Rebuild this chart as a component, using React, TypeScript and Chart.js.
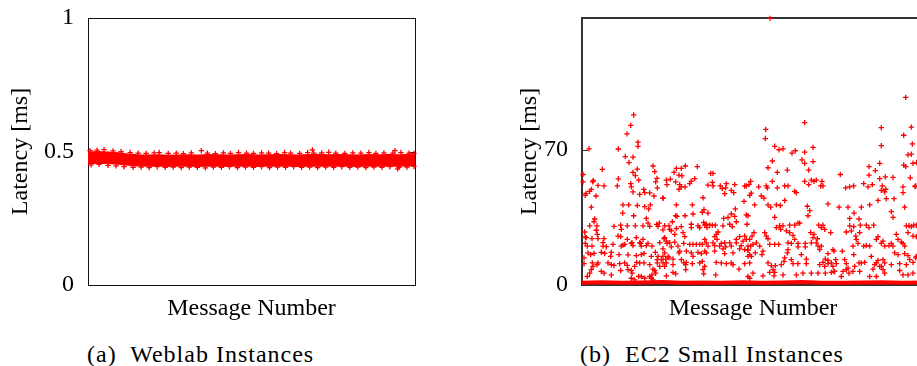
import { useEffect, useRef } from "react";
import { Chart, registerables } from "chart.js";
Chart.register(...registerables);

const FONT = "\"Liberation Serif\", \"DejaVu Serif\", serif";
const RED = "rgb(255,0,0)";

// ---------- (a) Weblab ----------
const weblabYTicks = [0, 0.5, 1];
const weblabXMax = 3260;
const weblabBandX = [0,100,200,300,400,500,600,700,800,900,1000,1100,1200,1300,1400,1500,1600,1700,1800,1900,2000,2100,2200,2300,2400,2500,2600,2700,2800,2900,3000,3100,3200,3260];
const weblabBandUpper = [0.497,0.499,0.497,0.494,0.490,0.487,0.486,0.487,0.485,0.486,0.487,0.486,0.488,0.487,0.486,0.487,0.488,0.486,0.487,0.488,0.487,0.486,0.488,0.489,0.487,0.488,0.487,0.486,0.488,0.487,0.488,0.487,0.488,0.487];
const weblabBandLower = [0.455,0.457,0.456,0.453,0.449,0.447,0.446,0.447,0.445,0.447,0.446,0.445,0.447,0.446,0.445,0.447,0.446,0.445,0.447,0.446,0.447,0.445,0.446,0.447,0.446,0.447,0.446,0.445,0.447,0.446,0.447,0.446,0.447,0.448];
const weblabTopEdge = [[20,0.503],[90,0.505],[160,0.507],[250,0.502],[330,0.499],[420,0.496],[500,0.494],[580,0.493],[660,0.495],[710,0.496],[800,0.493],[880,0.494],[950,0.492],[1030,0.495],[1130,0.503],[1190,0.494],[1270,0.492],[1350,0.495],[1420,0.493],[1500,0.496],[1580,0.494],[1650,0.493],[1730,0.495],[1800,0.494],[1880,0.492],[1960,0.496],[2020,0.494],[2110,0.493],[2190,0.496],[2237,0.506],[2250,0.494],[2330,0.495],[2400,0.497],[2470,0.494],[2560,0.493],[2640,0.495],[2720,0.494],[2800,0.496],[2870,0.493],[2950,0.495],[3040,0.494],[3060,0.503],[3120,0.496],[3200,0.494],[3250,0.493]];
const weblabBottomEdge = [[30,0.450],[110,0.452],[200,0.448],[280,0.446],[360,0.443],[450,0.441],[530,0.442],[610,0.440],[690,0.443],[770,0.441],[850,0.442],[930,0.440],[1010,0.442],[1090,0.441],[1170,0.439],[1250,0.442],[1330,0.441],[1410,0.443],[1490,0.440],[1570,0.442],[1650,0.441],[1730,0.443],[1810,0.440],[1890,0.442],[1970,0.441],[2050,0.443],[2130,0.441],[2210,0.442],[2290,0.440],[2370,0.442],[2450,0.441],[2530,0.443],[2610,0.441],[2690,0.442],[2770,0.440],[2850,0.442],[2930,0.441],[3010,0.443],[3087,0.435],[3100,0.441],[3180,0.442],[3250,0.444]];

// ---------- (b) EC2 Small ----------
const ec2YTicks = [0, 70];
const ec2YMax = 138;
const ec2XMax = 3420;
const ec2BaseX = [0,200,400,600,800,1000,1200,1400,1600,1800,2000,2200,2400,2600,2800,3000,3200,3420];
const ec2BaseY = [1.2,1.4,1.1,1.3,1.5,1.2,1.3,1.1,1.4,1.2,1.3,1.5,1.2,1.1,1.3,1.4,1.2,1.3];
const ec2SegA = [[517,87.9],[487,82.5],[450,78.1],[560,73.8],[560,71.7],[70,70.4],[363,70.3],[433,66.4],[510,66.1],[470,63.3],[203,59.8],[510,58.2],[553,59.9],[533,56.5],[567,54.2],[10,57.1],[10,53.3],[113,54.0],[107,53.3],[363,54.9],[160,51.5],[220,51.2],[353,51.2],[487,52.4],[493,50.7],[510,48.1],[93,49.4],[40,47.3],[33,46.3],[77,48.4],[140,46.0],[617,49.4],[577,46.8],[627,47.7],[677,47.6],[720,46.0],[710,61.5],[727,58.6],[750,55.1],[737,53.3],[753,50.2],[810,44.9],[93,40.2],[410,41.4],[467,41.4],[553,41.1],[407,37.2],[517,35.8],[627,40.5],[683,41.4],[667,39.3],[127,34.1],[120,32.7],[77,30.6],[150,30.6],[27,27.4],[33,24.8],[143,28.3],[153,26.2],[320,30.3],[387,30.9],[393,28.8],[453,30.6],[533,30.6],[643,34.4],[660,32.0],[610,30.6],[677,30.3],[760,30.3],[747,31.3],[773,32.0],[810,28.5],[820,24.0],[43,24.5],[100,24.0],[160,24.0],[220,24.0],[210,21.9],[360,25.3],[387,25.0],[453,23.6],[543,24.5],[500,21.9],[577,21.9],[610,23.6],[33,21.5],[53,20.1],[100,20.1],[60,16.6],[20,14.0],[87,15.7],[120,16.3],[210,20.1],[243,19.8],[310,21.0],[410,20.6],[427,21.0],[393,20.1],[493,21.5],[510,20.4],[587,21.5],[593,20.1],[643,20.4],[660,21.5],[700,20.1],[777,21.9],[193,16.9],[227,16.3],[293,16.9],[287,14.8],[370,15.7],[460,15.6],[543,15.2],[593,15.7],[620,16.3],[733,16.9],[760,14.8],[793,13.1],[693,14.8],[753,13.1],[20,11.0],[103,11.4],[160,11.4],[150,10.5],[110,9.6],[260,11.4],[293,10.5],[320,10.1],[377,11.0],[427,11.4],[453,10.1],[387,7.5],[493,7.5],[460,7.9],[500,6.1],[527,9.6],[547,11.7],[577,11.4],[620,11.4],[677,10.5],[710,8.2],[727,7.5],[737,6.1],[753,11.4],[777,9.6],[93,7.9],[77,6.1],[53,4.4],[193,7.0],[220,6.1],[293,5.2],[593,4.4],[627,3.5],[677,4.4],[693,3.5],[700,5.2],[710,2.6],[493,3.5],[527,2.6],[567,4.4]];
const ec2SegB = [[1033,61.5],[993,60.3],[943,60.3],[920,58.2],[970,56.8],[1000,56.4],[1153,61.2],[1287,57.7],[1310,57.7],[883,54.7],[843,54.2],[850,51.9],[937,53.3],[977,51.9],[993,50.7],[970,49.5],[1030,50.7],[1127,55.0],[1093,53.7],[1077,52.4],[1260,51.6],[1310,51.2],[1303,53.0],[1383,51.2],[1403,49.8],[1443,52.4],[1437,50.2],[1427,47.2],[1527,51.9],[1517,47.7],[1493,48.9],[1627,51.2],[1643,51.2],[1670,51.9],[810,44.9],[1210,45.1],[943,41.4],[1103,41.4],[1220,39.0],[1203,37.6],[1260,37.2],[1533,39.3],[1493,36.7],[1527,35.5],[1460,34.9],[1417,34.4],[1643,36.2],[1620,43.2],[937,35.8],[950,35.5],[1030,35.8],[1110,36.7],[903,32.7],[870,30.6],[827,30.6],[877,28.8],[893,28.0],[943,29.2],[993,30.2],[1093,31.4],[1093,29.7],[1160,30.6],[1177,29.7],[1217,32.3],[1227,30.9],[1243,31.4],[1277,30.9],[1303,30.9],[1333,30.9],[1250,29.7],[1410,30.6],[1477,31.4],[1503,30.2],[1543,32.7],[1650,31.4],[1010,27.1],[1027,25.0],[927,26.2],[827,24.5],[843,22.7],[850,21.5],[877,21.8],[893,19.7],[927,22.2],[960,20.1],[977,17.5],[1017,21.5],[1077,21.0],[1110,21.0],[1143,21.0],[1177,21.0],[1203,21.0],[1227,23.6],[1243,21.8],[1260,20.1],[1327,25.0],[1343,26.2],[1360,27.4],[1350,23.6],[1310,21.8],[1327,20.4],[1377,20.1],[1393,21.5],[1427,21.8],[1437,19.7],[1477,21.8],[1493,20.1],[1543,21.8],[1543,23.6],[1593,20.4],[1610,22.7],[1627,25.3],[1643,23.6],[1660,20.1],[1577,25.0],[810,18.7],[827,16.6],[810,14.8],[860,14.8],[837,13.4],[870,14.0],[910,13.4],[970,16.6],[1043,17.5],[1093,16.6],[1110,14.8],[1160,16.9],[1227,17.5],[1193,16.2],[1243,16.6],[1327,17.5],[1410,18.7],[1427,16.2],[1510,16.6],[1577,18.7],[1627,18.3],[1660,18.0],[810,11.4],[843,11.4],[827,9.6],[910,10.5],[993,13.1],[1017,11.4],[1037,10.5],[1043,11.7],[1103,11.0],[1177,11.4],[1203,12.2],[1227,9.6],[1210,7.9],[1343,11.7],[1393,11.4],[1443,11.0],[1493,11.4],[1510,10.5],[1627,11.0],[1677,11.4],[910,6.5],[937,5.8],[1037,7.9],[1217,5.8],[1337,5.2],[1570,8.2],[1660,4.4],[843,4.7]];
const ec2SegC = [[2227,83.9],[1837,80.4],[1833,75.7],[1927,71.7],[1970,69.9],[2010,70.4],[2100,68.2],[2133,69.4],[2227,68.7],[2310,71.1],[2227,62.9],[2200,64.7],[2310,63.8],[1903,64.1],[1860,60.6],[1953,58.2],[2053,59.4],[2267,59.4],[1687,53.6],[1767,50.7],[1843,51.2],[1853,50.2],[1903,53.6],[1953,50.2],[2027,51.2],[2060,51.2],[2127,48.4],[2143,47.7],[2227,53.6],[2267,51.9],[2293,54.2],[2320,53.6],[2343,54.2],[2400,53.6],[2410,51.2],[2387,51.2],[1693,47.5],[1677,46.3],[1793,46.0],[1820,44.9],[2027,43.7],[1727,41.4],[1860,41.4],[1887,40.2],[1943,41.4],[1983,41.1],[2253,40.7],[2277,38.4],[2260,35.8],[2460,41.9],[1927,35.0],[1660,35.8],[1720,27.1],[1700,25.3],[1677,23.6],[1710,21.0],[1743,21.8],[1777,20.1],[1687,20.1],[1660,14.8],[1693,14.8],[1733,16.6],[1800,15.7],[1827,27.1],[1843,25.3],[1860,23.9],[1877,21.0],[1927,21.0],[1967,21.0],[1943,29.7],[1977,30.6],[2010,30.6],[1987,28.8],[2077,30.9],[2127,30.9],[2160,32.0],[2177,32.0],[2043,28.0],[2077,27.1],[2110,25.7],[2127,23.6],[2060,21.8],[2093,21.5],[2060,18.3],[2053,16.6],[2160,21.5],[2160,19.7],[2233,21.5],[2233,19.7],[2193,15.7],[2243,13.4],[2293,21.8],[2310,24.5],[2353,23.9],[2343,21.8],[2360,20.1],[2393,20.1],[2377,18.3],[2367,30.9],[2393,29.7],[2427,28.8],[2410,30.9],[2487,27.1],[2287,27.1],[2320,26.2],[1660,18.0],[1677,15.7],[1810,17.5],[1860,11.4],[1893,10.0],[1910,7.9],[1877,6.5],[1927,6.5],[1933,10.0],[1993,10.5],[2027,14.0],[2020,12.2],[2093,13.1],[2110,11.0],[2160,11.0],[2243,11.0],[2293,6.1],[2377,10.5],[2410,11.7],[2433,13.4],[2460,12.7],[2460,11.0],[2493,11.4],[2427,9.6],[2460,16.2],[2520,17.5],[2433,6.1],[2493,6.5],[2520,7.0],[2360,6.1],[1710,6.1],[1677,3.5],[1810,4.7],[1920,4.7],[2010,5.2],[2143,5.2],[2210,6.1]];
const ec2SegD = [[3237,97.0],[2993,81.3],[3217,77.4],[3293,81.6],[3303,72.9],[2993,72.0],[3260,67.3],[3293,67.6],[3310,62.9],[3217,62.0],[3237,61.2],[2977,62.9],[2870,61.2],[2933,59.1],[2583,57.1],[2870,56.8],[2977,55.0],[3033,55.9],[3110,55.6],[3283,55.4],[3337,51.2],[3210,50.7],[2637,50.2],[2677,50.7],[2717,51.2],[2817,52.4],[2860,50.7],[2903,51.9],[3003,51.2],[2993,48.9],[3037,49.5],[3027,48.1],[2960,43.7],[3043,44.6],[3120,44.6],[3210,47.7],[3227,40.2],[2570,40.2],[2660,40.2],[2793,40.2],[2877,41.4],[3093,37.9],[3110,35.0],[2677,34.4],[2720,37.2],[2643,27.4],[2677,30.6],[2693,28.0],[2717,30.2],[2770,34.1],[2783,30.9],[2843,30.9],[2870,29.7],[2917,30.9],[2737,25.3],[2777,27.1],[2743,23.6],[2710,20.1],[2760,21.5],[2817,20.1],[2843,20.4],[2877,20.1],[2943,23.6],[2960,25.0],[2993,21.5],[3010,22.7],[3027,20.1],[3070,20.4],[3093,21.5],[3110,20.1],[3143,26.2],[3160,23.6],[3193,22.2],[3210,21.5],[3227,20.1],[3243,30.6],[3270,30.6],[3293,30.2],[3317,30.9],[3343,30.9],[3260,27.1],[3310,25.3],[3343,25.0],[2510,18.3],[2603,17.5],[2537,13.1],[2543,11.0],[2510,9.6],[2627,13.1],[2643,11.0],[2660,8.7],[2717,15.7],[2727,9.6],[2770,11.4],[2793,11.4],[2827,11.7],[2777,7.0],[2710,7.0],[2670,6.1],[2643,7.9],[2610,7.0],[2593,4.4],[2527,7.0],[2893,14.8],[2927,10.5],[2943,11.4],[2960,12.7],[2977,9.6],[3010,13.1],[3027,11.4],[3010,7.9],[3027,6.1],[2993,9.6],[2910,8.2],[3127,16.6],[3093,10.5],[3160,15.7],[3177,11.0],[3227,16.2],[3260,15.2],[3277,13.1],[3310,11.7],[3337,14.0],[3343,14.8],[3243,10.5],[3177,7.5],[3310,6.1],[3210,5.2],[3260,5.2],[2877,4.4],[2943,4.4]];
const ec2Outliers = [[1880,137.8],[3347,63.3],[3330,50.9]];

const pairs = (p: number[][]) => p.map(([x, y]) => ({ x, y }));
const zipXY = (xs: number[], ys: number[]) => xs.map((x, i) => ({ x, y: ys[i] }));

const frame = (color: string, lw: number, rightTicks: boolean) => ({
  id: "frame",
  beforeDatasetsDraw(chart: any) {
    const { ctx, chartArea: a, scales } = chart;
    const off = lw % 2 ? 0.5 : 0;
    const L = Math.round(a.left) + off;
    const R = Math.round(a.right) + off;
    const T = Math.round(a.top) + off;
    const B = Math.round(a.bottom) + off;
    ctx.save();
    ctx.strokeStyle = color;
    ctx.lineWidth = lw;
    ctx.strokeRect(L, T, R - L, B - T);
    const ys = scales.y;
    ctx.beginPath();
    ys.ticks.forEach((t: any) => {
      const py = Math.round(ys.getPixelForValue(t.value)) + 0.5;
      ctx.moveTo(L, py);
      ctx.lineTo(L + 6, py);
      if (rightTicks) {
        ctx.moveTo(R, py);
        ctx.lineTo(R - 6, py);
      }
    });
    ctx.lineWidth = 1;
    ctx.stroke();
    ctx.restore();
  },
});

const font = { family: FONT, size: 24 };

function baseOptions(xMax: number, yMax: number, yTicks: number[], yTitlePad: number, padRight: number) {
  return {
    animation: false,
    responsive: false,
    devicePixelRatio: 1,
    layout: { padding: { top: 18, right: padRight, bottom: 0, left: 0 } },
    plugins: { legend: { display: false }, tooltip: { enabled: false } },
    scales: {
      x: {
        type: "linear",
        min: 0,
        max: xMax,
        grid: { display: false, drawTicks: false },
        border: { display: false },
        ticks: { display: false },
        title: { display: true, text: "Message Number", font, color: "#000", padding: { top: 0, bottom: 7 } },
        afterFit: (s: any) => { s.height = 45; s.paddingLeft = 0; s.paddingRight = 0; },
      },
      y: {
        type: "linear",
        min: 0,
        max: yMax,
        grid: { display: false, drawTicks: false },
        border: { display: false },
        afterBuildTicks: (s: any) => { s.ticks = yTicks.map((v) => ({ value: v })); },
        ticks: { font, color: "#000", padding: 14, callback: (v: any) => String(v) },
        title: { display: true, text: "Latency [ms]", font, color: "#000", padding: { top: yTitlePad, bottom: 0 } },
        afterFit: (s: any) => { s.width = 88; s.paddingTop = 0; s.paddingBottom = 0; },
      },
    },
  };
}

const crossStyle = { pointStyle: "cross", pointRadius: 2.7, borderColor: RED, backgroundColor: RED, borderWidth: 1.3, showLine: false, clip: false };

export default function App() {
  const leftRef = useRef<HTMLCanvasElement>(null);
  const rightRef = useRef<HTMLCanvasElement>(null);

  useEffect(() => {
    const left = new Chart(leftRef.current as HTMLCanvasElement, {
      type: "scatter",
      data: {
        datasets: [
          { type: "line", data: zipXY(weblabBandX, weblabBandUpper), borderColor: RED, borderWidth: 1.5, pointRadius: 0, fill: false, clip: false, tension: 0 },
          { type: "line", data: zipXY(weblabBandX, weblabBandLower), borderColor: RED, borderWidth: 1.5, pointRadius: 0, fill: "-1", backgroundColor: RED, clip: false, tension: 0 },
          { data: pairs(weblabTopEdge), ...crossStyle },
          { data: pairs(weblabBottomEdge), ...crossStyle },
        ],
      } as any,
      options: baseOptions(weblabXMax, 1, weblabYTicks, 6.6, 15) as any,
      plugins: [frame("#111", 1, true)],
    });
    const right = new Chart(rightRef.current as HTMLCanvasElement, {
      type: "scatter",
      data: {
        datasets: [
          { data: pairs(ec2SegA), ...crossStyle },
          { data: pairs(ec2SegB), ...crossStyle },
          { data: pairs(ec2SegC), ...crossStyle },
          { data: pairs(ec2SegD), ...crossStyle },
          { data: pairs(ec2Outliers), ...crossStyle },
          { type: "line", data: zipXY(ec2BaseX, ec2BaseY), borderColor: RED, borderWidth: 4, pointRadius: 0, fill: false, clip: false, tension: 0 },
        ],
      } as any,
      options: baseOptions(ec2XMax, ec2YMax, ec2YTicks, 21.6, 30) as any,
      plugins: [frame("#333", 2, false)],
    });
    return () => {
      left.destroy();
      right.destroy();
    };
  }, []);

  const caption = (x: number) => ({
    position: "absolute" as const,
    left: x,
    top: 342,
    fontFamily: FONT,
    fontSize: 24,
    lineHeight: "24px",
    letterSpacing: "1px",
    whiteSpace: "pre" as const,
    color: "#000",
  });

  return (
    <div style={{ position: "absolute", left: 0, top: 0, width: 917, height: 366, overflow: "hidden", background: "#fff" }}>
      <canvas ref={leftRef} width={430} height={330} style={{ position: "absolute", left: 0, top: 0, width: 430, height: 330 }} />
      <canvas ref={rightRef} width={460} height={330} style={{ position: "absolute", left: 494, top: 0, width: 460, height: 330 }} />
      <div style={caption(87)}>(a)  Weblab Instances</div>
      <div style={caption(580)}>(b)  EC2 Small Instances</div>
    </div>
  );
}
